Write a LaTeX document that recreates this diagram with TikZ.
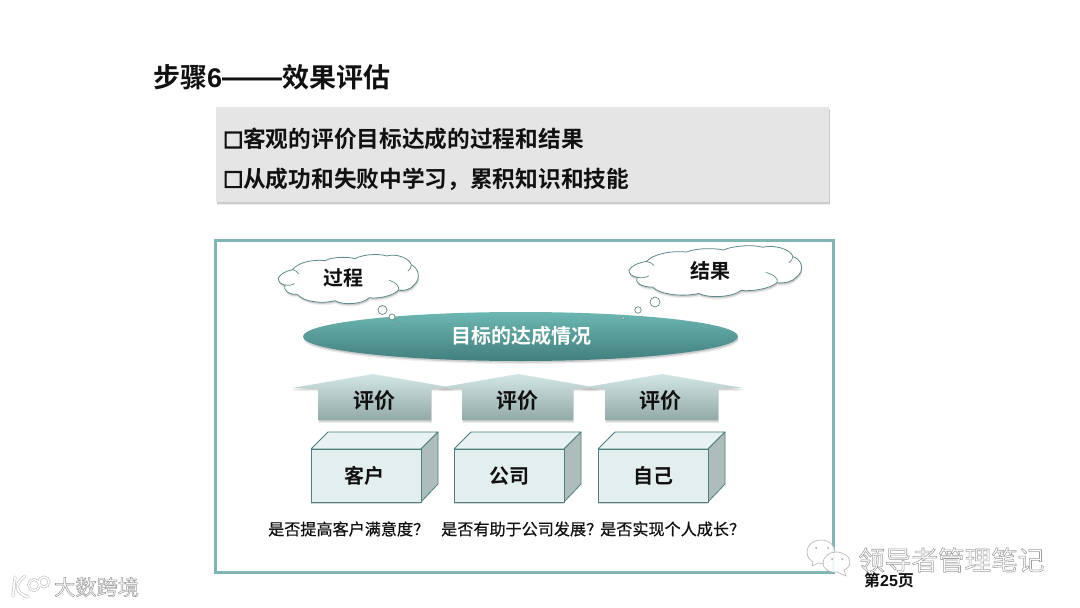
\documentclass[tikz,border=0pt]{standalone}
\usepackage{fontspec}
\setmainfont{Liberation Sans}
\newfontfamily\cjkb[BoldFont={Noto Sans CJK SC Bold}]{Noto Sans CJK SC}
\newfontfamily\cjkm[FakeBold=0.6]{Noto Sans CJK SC}
\newfontfamily\cjkr{Noto Sans CJK SC}
\usetikzlibrary{shapes.geometric,calc}
\newcommand{\fz}[1]{\fontsize{#1}{#1}\selectfont}
\newcommand{\outl}[1]{\special{pdf:code q 2 Tr 0.55 w 0.62 G 1 g}#1\special{pdf:code Q}}
\newcommand{\heavy}[1]{\special{pdf:code q 2 Tr 1.3 w 0.07 G 0.07 g}#1\special{pdf:code Q}}
\definecolor{frameteal}{HTML}{7FB5B3}
\definecolor{greybox}{HTML}{E5E5E5}
\definecolor{ovaltop}{HTML}{6DB7B3}
\definecolor{ovalbot}{HTML}{417F7E}
\definecolor{arrtop}{HTML}{D2E7E5}
\definecolor{arrbot}{HTML}{93A9A8}
\definecolor{boxfront}{HTML}{E3EFEF}
\definecolor{boxtop}{HTML}{E9F2F2}
\definecolor{boxside}{HTML}{ADBDBC}
\definecolor{boxedge}{HTML}{4F7F7C}
\definecolor{inkblack}{HTML}{111111}
\definecolor{cloudedge}{HTML}{5F8A88}
\tikzset{
  softshadow/.style={
    preaction={fill=black,fill opacity=.07,draw=none,transform canvas={xshift=.8pt,yshift=-3pt}},
    preaction={fill=black,fill opacity=.14,draw=none,transform canvas={xshift=.5pt,yshift=-1.6pt}}},
  lbl/.style={font=\cjkb\bfseries\fz{20},text=inkblack,inner sep=0pt},
  bullet/.style={font=\cjkb\bfseries\fz{22.7},text=inkblack,inner sep=0pt,anchor=west},
  ask/.style={font=\cjkm\fz{16.1},text=inkblack,inner sep=0pt,anchor=west},
  boxedgeline/.style={draw=boxedge,line width=.8pt,line join=round},
  bubble/.style={circle,draw=cloudedge,fill=white,line width=.7pt,inner sep=0pt},
  arrowblock/.style={top color=arrtop,bottom color=arrbot,draw=none},
}
% cloud outline, local coordinates
\newcommand{\cloudline}{(205,130) .. controls (210,117) and (228,108) .. (248,104)
 .. controls (262,84) and (305,72) .. (345,77)
 .. controls (368,65) and (412,65) .. (435,71)
 .. controls (458,58) and (508,55) .. (530,63)
 .. controls (558,55) and (598,68) .. (604,90)
 .. controls (625,98) and (635,130) .. (612,150)
 .. controls (603,163) and (585,168) .. (565,166)
 .. controls (548,184) and (500,192) .. (478,188)
 .. controls (458,208) and (400,212) .. (375,197)
 .. controls (340,207) and (282,202) .. (262,178)
 .. controls (238,180) and (217,165) .. (225,150)
 .. controls (212,148) and (205,140) .. (205,130) -- cycle}
\newcommand{\cloudshape}{%
  \path[fill=white,draw=cloudedge,line width=.8pt,softshadow] \cloudline;
  \draw[cloudedge,line width=.7pt] (248,104) .. controls (256,106) and (262,110) .. (266,116);
  \draw[cloudedge,line width=.7pt] (225,150) .. controls (235,153) and (245,151) .. (254,146);
  \draw[cloudedge,line width=.7pt] (565,166) .. controls (570,155) and (558,142) .. (538,136);
  \draw[cloudedge,line width=.7pt] (604,90) .. controls (604,97) and (600,103) .. (594,108);
}
% block arrow: apex x, stem left, stem right
\newcommand{\blockarrow}[3]{%
  \path[arrowblock,softshadow] (#1,374) -- (#1+81,388) -- (#3,388) -- (#3,420) -- (#2,420) -- (#2,388) -- (#1-81,388) -- cycle;
}
% 3D box: left x of front face
\newcommand{\solidbox}[1]{%
  \path[fill=black,fill opacity=.16,transform canvas={yshift=-2pt}] (#1,449) rectangle (#1+110,502);
  \path[fill=boxtop,boxedgeline] (#1,449) -- (#1+17,432) -- (#1+127,432) -- (#1+110,449) -- cycle;
  \path[fill=boxside,boxedgeline] (#1+110,449) -- (#1+127,432) -- (#1+127,484) -- (#1+110,502) -- cycle;
  \path[fill=boxfront,boxedgeline] (#1,449) rectangle (#1+110,502);
}
\begin{document}
\begin{tikzpicture}[x=1pt,y=-1pt]
\useasboundingbox (0,0) rectangle (1080,608);
\fill[white] (0,0) rectangle (1080,608);

\node[anchor=west,inner sep=0pt,text=inkblack] (title) at (153,77)
  {\cjkb\bfseries\fz{27}步骤{\fontspec{Liberation Sans Bold}6{\fz{30}——}}效果评估};

% grey panel
\path[fill=greybox,softshadow] (216,107) rectangle (829,202);
\node[bullet] (bl1) at (223,139) {{\fz{20}\heavy{□}}客观的评价目标达成的过程和结果};
\node[bullet] (bl2) at (223,179) {{\fz{20}\heavy{□}}从成功和失败中学习，累积知识和技能};

% frame
\draw[frameteal,line width=2.3pt] (215.5,240.5) rectangle (833.5,572.5);

% clouds
\begin{scope}[shift={(210,235)},x=.3333pt,y=-.3333pt]
  \cloudshape
\end{scope}
\begin{scope}[shift={(544.7,225.5)},x=.411pt,y=-.345pt]
  \cloudshape
\end{scope}
\node[lbl] (proc) at (343,278) {过程};
\node[lbl] (res) at (710,271) {结果};

% goal oval
\node[ellipse,minimum width=435pt,minimum height=49pt,inner sep=0pt,
  top color=ovaltop,bottom color=ovalbot,softshadow] (goal) at (520.5,336.5) {};
\node[lbl,text=white] (goaltxt) at (521,336) {目标的达成情况};

\node[bubble,minimum size=9pt] (ba) at (382.5,310) {};
\node[bubble,minimum size=6pt] (bb) at (392,317) {};
\node[bubble,minimum size=2.5pt] (bc) at (399,324) {};
\node[bubble,minimum size=10pt] (bd) at (655,302) {};
\node[bubble,minimum size=6.5pt] (be) at (638,310) {};
\node[bubble,minimum size=3pt] (bf) at (623,318) {};

% arrows
\blockarrow{373}{318}{431}
\blockarrow{518}{462}{573}
\blockarrow{662}{605}{718}
\node[lbl,font=\cjkb\bfseries\fz{21}] (e1) at (374,401) {评价};
\node[lbl,font=\cjkb\bfseries\fz{21}] (e2) at (517,401) {评价};
\node[lbl,font=\cjkb\bfseries\fz{21}] (e3) at (660,401) {评价};

% boxes
\solidbox{311}
\solidbox{454}
\solidbox{598}
\node[lbl] (b1) at (364,476) {客户};
\node[lbl] (b2) at (509,476) {公司};
\node[lbl] (b3) at (653,476) {自己};

\node[ask] (q1) at (268,529) {是否提高客户满意度？};
\node[ask] (q2) at (441,529) {是否有助于公司发展？};
\node[ask] (q3) at (600,529) {是否实现个人成长？};

% wechat mark
\path[fill=white,fill opacity=.85,draw=black!30,line width=.6pt]
  (821,540) .. controls (812,540) and (807,546) .. (807,552)
  .. controls (807,557) and (810,560) .. (813,562) -- (812,566) -- (818,563)
  .. controls (826,565) and (835,560) .. (835,552)
  .. controls (835,546) and (830,540) .. (821,540) -- cycle;
\path[fill=white,fill opacity=.9,draw=black!30,line width=.6pt]
  (836,552) .. controls (829,552) and (823,557) .. (823,563)
  .. controls (823,569) and (829,573) .. (837,572) -- (846,576) -- (844,570)
  .. controls (848,568) and (850,566) .. (850,562)
  .. controls (850,557) and (844,552) .. (836,552) -- cycle;
\fill[black!35] (816,548) circle (1pt) (828,548) circle (1pt) (832,559) circle (1pt) (842,559) circle (1pt);
\node[anchor=west,inner sep=0pt] (wm) at (858,560) {\cjkr\fz{26.6}\outl{领导者管理笔记}};
\node[inner sep=0pt,text=inkblack] (page) at (889,580) {\cjkb\bfseries\fz{16}第{\fontspec{Liberation Sans Bold}25}页};

% corner logo
\draw[black!22,line width=3.2pt,line cap=round] (15,577) -- (13,596) (25,576) .. controls (14,584) and (15,593) .. (28,597);
\draw[black!22,line width=2.8pt] (34,585) circle (5.5pt) (44,582) circle (5pt);
\draw[white,line width=1.8pt,line cap=round] (15,577) -- (13,596) (25,576) .. controls (14,584) and (15,593) .. (28,597);
\draw[white,line width=1.4pt] (34,585) circle (5.5pt) (44,582) circle (5pt);
\node[anchor=west,inner sep=0pt] (mk) at (54,587) {\cjkr\fz{21.2}\outl{大数跨境}};
\end{tikzpicture}
\end{document}
